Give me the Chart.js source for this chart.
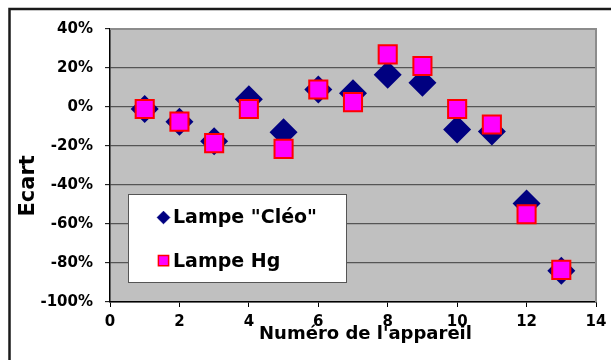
<!DOCTYPE html>
<html>
<head>
<meta charset="utf-8">
<script src="https://cdn.jsdelivr.net/npm/chart.js@4/dist/chart.umd.min.js"></script>
<style>
  html, body { margin: 0; padding: 0; background: #ffffff; }
  #wrap { position: relative; width: 611px; height: 360px; }
</style>
</head>
<body>
<div id="wrap"><canvas id="c" width="611" height="360"></canvas></div>
<script>
// ---- data ----
const appareils = [1, 2, 3, 4, 5, 6, 7, 8, 9, 10, 11, 12, 13];
const ecartCleo = [-1, -7.5, -17.5, 4, -13, 9, 7, 16.5, 12.5, -11.5, -12.5, -49.5, -84];
const ecartHg   = [-1, -7.5, -18.5, -1, -21.5, 9, 2.5, 27, 21, -1, -9, -55, -83.5];
const seriesLabels = ['Lampe "Cléo"', 'Lampe Hg'];
const xTitle = "Numéro de l'appareil";
const yTitle = 'Ecart';
const xTicks = [0, 2, 4, 6, 8, 10, 12, 14];
const yTicks = [-100, -80, -60, -40, -20, 0, 20, 40];

const FONT = '"DejaVu Sans", sans-serif';

const toPoints = (xs, ys) => xs.map((x, i) => ({ x: x, y: ys[i] }));

const decor = {
  id: 'decor',
  beforeDraw(chart) {
    const ctx = chart.ctx;
    const a = chart.chartArea;
    ctx.save();
    ctx.fillStyle = '#ffffff';
    ctx.fillRect(0, 0, chart.width, chart.height);
    ctx.fillStyle = '#c0c0c0';
    ctx.fillRect(a.left, a.top, a.right - a.left, a.bottom - a.top);
    ctx.strokeStyle = '#1a1a1a';
    ctx.lineWidth = 2.5;
    ctx.beginPath();
    ctx.moveTo(9.5, chart.height + 5);
    ctx.lineTo(9.5, 9);
    ctx.lineTo(chart.width + 5, 9);
    ctx.stroke();
    ctx.restore();
  },
  beforeDatasetsDraw(chart) {
    const ctx = chart.ctx;
    const a = chart.chartArea;
    ctx.save();
    ctx.strokeStyle = '#8c8c8c';
    ctx.lineWidth = 2;
    ctx.beginPath();
    ctx.moveTo(a.left, a.top);
    ctx.lineTo(a.right, a.top);
    ctx.lineTo(a.right, a.bottom);
    ctx.stroke();
    ctx.restore();
  },
  afterDraw(chart) {
    const ctx = chart.ctx;
    ctx.save();
    ctx.fillStyle = '#000';
    ctx.font = 'bold 18px ' + FONT;
    ctx.textAlign = 'center';
    ctx.textBaseline = 'alphabetic';
    ctx.fillText(xTitle, 365.5, 338.5);
    ctx.translate(33.5, 185.8);
    ctx.rotate(-Math.PI / 2);
    ctx.font = 'bold 21px ' + FONT;
    ctx.fillText(yTitle, 0, 0);
    ctx.restore();

    ctx.save();
    ctx.fillStyle = '#ffffff';
    ctx.fillRect(128, 194, 218, 88);
    ctx.strokeStyle = '#555555';
    ctx.lineWidth = 1;
    ctx.strokeRect(128.5, 194.5, 218, 88);
    const items = chart.data.datasets;
    const rows = [217.5, 260.7];
    items.forEach((ds, i) => {
      const y = rows[i];
      ctx.save();
      ctx.fillStyle = ds.backgroundColor;
      ctx.strokeStyle = ds.borderColor;
      ctx.lineWidth = i === 0 ? 0 : 1.5;
      const opts = { pointStyle: ds.pointStyle, radius: i === 0 ? 6.3 : 7.2, rotation: 0, borderWidth: ctx.lineWidth };
      if (Chart.helpers && Chart.helpers.drawPoint) {
        Chart.helpers.drawPoint(ctx, opts, 163.5, y);
      }
      ctx.restore();
      ctx.fillStyle = '#000';
      ctx.font = 'bold 19px ' + FONT;
      ctx.textAlign = 'left';
      ctx.textBaseline = 'middle';
      ctx.fillText(ds.label, 173, y + 1);
    });
    ctx.restore();
  }
};

new Chart(document.getElementById('c'), {
  type: 'scatter',
  data: {
    datasets: [
      {
        label: seriesLabels[0],
        data: toPoints(appareils, ecartCleo),
        pointStyle: 'rectRot',
        pointRadius: 14,
        pointHoverRadius: 14,
        backgroundColor: '#000080',
        borderColor: '#000080',
        borderWidth: 0,
        order: 2
      },
      {
        label: seriesLabels[1],
        data: toPoints(appareils, ecartHg),
        pointStyle: 'rect',
        pointRadius: 12.8,
        pointHoverRadius: 12.8,
        backgroundColor: '#ff00ff',
        borderColor: '#ff0000',
        borderWidth: 2,
        order: 1
      }
    ]
  },
  options: {
    responsive: false,
    animation: false,
    events: [],
    layout: { padding: { left: 0, top: 29, right: 15, bottom: 0 } },
    plugins: {
      legend: { display: false },
      tooltip: { enabled: false },
      title: { display: false }
    },
    scales: {
      x: {
        type: 'linear',
        position: 'bottom',
        min: xTicks[0],
        max: xTicks[xTicks.length - 1],
        afterBuildTicks(scale) { scale.ticks = xTicks.map(v => ({ value: v })); },
        afterFit(scale) { scale.height = 58; scale.paddingLeft = 0; scale.paddingRight = 0; },
        ticks: {
          color: '#000',
          font: { family: FONT, size: 15, weight: 'bold' },
          padding: 6,
          maxRotation: 0,
          autoSkip: false
        },
        grid: {
          drawOnChartArea: false,
          drawTicks: true,
          tickLength: 5,
          tickColor: '#000',
          tickWidth: 1
        },
        border: { display: true, color: '#000', width: 1.5 },
        title: { display: false }
      },
      y: {
        type: 'linear',
        position: 'left',
        min: yTicks[0],
        max: yTicks[yTicks.length - 1],
        afterBuildTicks(scale) { scale.ticks = yTicks.map(v => ({ value: v })); },
        afterFit(scale) { scale.width = 110; scale.paddingTop = 0; scale.paddingBottom = 0; },
        ticks: {
          color: '#000',
          font: { family: FONT, size: 15, weight: 'bold' },
          padding: 12,
          autoSkip: false,
          callback: v => v + '%'
        },
        grid: {
          drawOnChartArea: true,
          drawTicks: true,
          tickLength: 5,
          color: '#555555',
          lineWidth: 1.3,
          tickColor: '#000',
          tickWidth: 1
        },
        border: { display: true, color: '#000', width: 1.5 },
        title: { display: false }
      }
    }
  },
  plugins: [decor]
});
</script>
</body>
</html>
